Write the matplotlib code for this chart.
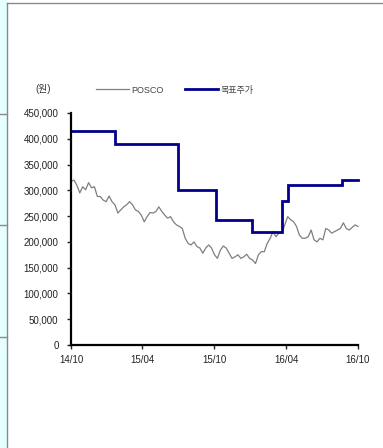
import numpy as np
import pandas as pd
import matplotlib.pyplot as plt
from matplotlib.lines import Line2D
from matplotlib.patches import Rectangle
from matplotlib.ticker import FuncFormatter

plt.rcParams['font.family'] = ['Liberation Sans', 'Noto Sans CJK KR', 'DejaVu Sans']

# POSCO closing price (won), roughly weekly from 2014/10 to 2016/10
posco_price = [
    317000, 320000, 310000, 295000, 307000, 301000, 315000, 305000, 307000, 288000,
    288000, 281000, 278000, 289000, 278000, 272000, 256000, 262000, 268000, 272000,
    278000, 272000, 262000, 259000, 252000, 239000, 249000, 257000, 256000, 259000,
    268000, 259000, 252000, 246000, 249000, 239000, 233000, 230000, 226000,
    207000, 197000, 194000, 200000, 191000, 188000, 178000, 188000, 194000, 188000,
    175000, 168000, 184000, 192000, 188000, 178000, 168000, 171000, 175000, 168000,
    171000, 176000, 168000, 165000, 158000, 175000, 181000, 181000, 197000, 207000,
    220000, 210000, 217000, 217000, 233000, 249000, 243000, 239000, 230000, 213000,
    207000, 207000, 210000, 223000, 204000, 200000, 207000, 204000, 226000, 223000,
    217000, 220000, 223000, 226000, 237000, 226000, 223000, 228000, 233000, 230000,
]
price_dates = pd.date_range('2014-10-01', '2016-10-01', periods=len(posco_price))

# target price history (step changes)
target_dates = pd.to_datetime([
    '2014-10-01', '2015-01-20', '2015-07-01', '2015-10-05', '2016-01-05',
    '2016-03-22', '2016-04-06', '2016-08-20', '2016-10-01',
])
target_price = [415000, 390000, 300000, 242000, 220000, 280000, 310000, 320000, 320000]

xtick_dates = pd.to_datetime(['2014-10-01', '2015-04-01', '2015-10-01', '2016-04-01', '2016-10-01'])
xtick_labels = ['14/10', '15/04', '15/10', '16/04', '16/10']
yticks = np.arange(0, 450001, 50000)

W, H = 383, 448
fig = plt.figure(figsize=(W / 100, H / 100), dpi=100)

# page frame: cyan strip on the left with grey borders
fig.patches.append(Rectangle((0, 0), 6.5 / W, 1, transform=fig.transFigure,
                             facecolor='#e6ffff', edgecolor='none', zorder=0))
fig.add_artist(Line2D([6.5 / W, 6.5 / W], [0, 1 - 3 / H], color='#8a8a8a', lw=1.0))
fig.add_artist(Line2D([6.5 / W, 1], [1 - 3 / H, 1 - 3 / H], color='#8a8a8a', lw=1.0))
for yp in [114, 225, 337]:
    fig.add_artist(Line2D([0, 6.5 / W], [1 - yp / H, 1 - yp / H], color='#8a8a8a', lw=1.0))

ax = fig.add_axes([71 / W, 1 - 345 / H, (358 - 71) / W, (345 - 113) / H])

ax.plot(price_dates, posco_price, color='#7f7f7f', lw=0.9, label='POSCO', clip_on=False)
ax.plot(target_dates, target_price, color='#00008b', lw=2.0, drawstyle='steps-post',
        label='목표주가', clip_on=False, solid_joinstyle='miter')

ax.set_xlim(pd.Timestamp('2014-10-01'), pd.Timestamp('2016-10-01'))
ax.set_ylim(0, 450000)
ax.set_xticks(xtick_dates)
ax.set_xticklabels(xtick_labels)
ax.set_yticks(yticks)
ax.yaxis.set_major_formatter(FuncFormatter(lambda v, p: f'{int(v):,}'))

for s in ['top', 'right']:
    ax.spines[s].set_visible(False)
for s in ['left', 'bottom']:
    ax.spines[s].set_linewidth(1.6)
    ax.spines[s].set_color('black')
ax.tick_params(axis='both', labelsize=7, colors='#222222', length=3, width=1.0)
ax.tick_params(axis='y', pad=6)
ax.tick_params(axis='x', pad=4)

fig.text(43 / W, 1 - 89 / H, '(원)', fontsize=7, color='#333333', ha='center', va='center')
ax.legend(loc='center left', bbox_to_anchor=(88 / W, 1 - 90 / H), bbox_transform=fig.transFigure,
          ncol=2, frameon=False, fontsize=6.5, handlelength=3.6, handletextpad=0.3,
          columnspacing=2.4, labelcolor='#444444')

fig.savefig('out.png', dpi=100)
